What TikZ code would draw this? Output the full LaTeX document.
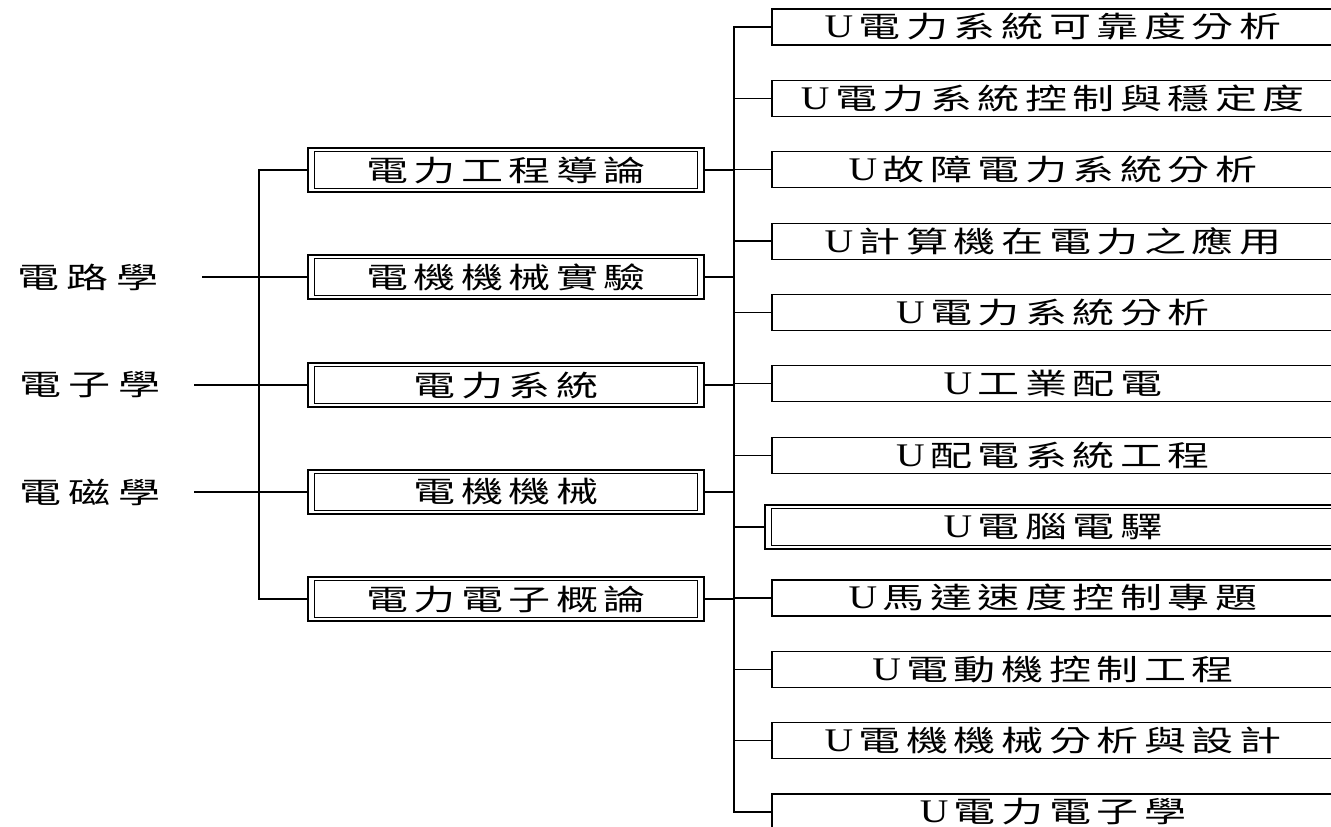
\documentclass[tikz,border=0pt]{standalone}
\usepackage{fontspec}
\newfontfamily\cjk[FakeStretch=1.45]{Noto Sans CJK TC}
\newfontfamily\lat[FakeStretch=1.2]{Liberation Serif}
\newcommand\UU{{\lat\fontsize{33}{36}\selectfont U}}
\ExplSyntaxOn
\NewDocumentCommand\spt{O{5.5pt}m}{
  \bool_set_true:N \l_tmpa_bool
  \tl_map_inline:nn {#2} {
    \bool_if:NF \l_tmpa_bool { \kern #1 \relax }
    \bool_set_false:N \l_tmpa_bool
    ##1
  }
}
\ExplSyntaxOff
\tikzset{
  txt/.style={font=\cjk\fontsize{29}{33}\selectfont, inner sep=0pt},
  lbl/.style={txt},
  midbox/.style={txt, draw, line width=1.4pt, minimum width=396pt, minimum height=44pt},
  rbox/.style={txt, draw, line width=1.2pt, minimum width=562pt, minimum height=36pt},
  rdbl/.style={txt, draw, line width=1.4pt, minimum width=576pt, minimum height=44pt},
  innerline/.style={line width=1.2pt},
  conn/.style={line width=1.3pt},
  trunk/.style={line width=1.8pt}
}
\begin{document}
\begin{tikzpicture}[x=1pt,y=-1pt]
\useasboundingbox (0,0) rectangle (1331,827);
\clip (0,0) rectangle (1331,827);
\fill[white] (0,0) rectangle (1331,827);

% left labels
\node[lbl] (L1) at (88,277) {\spt[7.5pt]{電路學}};
\node[lbl] (L2) at (90,385) {\spt[7.5pt]{電子學}};
\node[lbl] (L3) at (90,492) {\spt[7.5pt]{電磁學}};
\coordinate (s1) at (202,277);
\coordinate (s2) at (194,385);
\coordinate (s3) at (194,492);

% middle boxes
\node[midbox] (M1) at (506,170) {\spt{電力工程導論}};
\node[midbox] (M2) at (506,277) {\spt{電機機械實驗}};
\node[midbox] (M3) at (506,385) {\spt{電力系統}};
\node[midbox] (M4) at (506,492) {\spt{電機機械}};
\node[midbox] (M5) at (506,599) {\spt{電力電子概論}};
\foreach \m in {M1,M2,M3,M4,M5}{
  \draw[innerline] ([xshift=7pt,yshift=-4pt]\m.north west) rectangle ([xshift=-7pt,yshift=4pt]\m.south east);
}

% right boxes
\node[rbox] (R1) at (1053,27) {\spt{{\UU}電力系統可靠度分析}};
\node[rbox] (R2) at (1053,98.4) {\spt{{\UU}電力系統控制與穩定度}};
\node[rbox] (R3) at (1053,169.7) {\spt{{\UU}故障電力系統分析}};
\node[rbox] (R4) at (1053,241.1) {\spt{{\UU}計算機在電力之應用}};
\node[rbox] (R5) at (1053,312.4) {\spt{{\UU}電力系統分析}};
\node[rbox] (R6) at (1053,383.8) {\spt{{\UU}工業配電}};
\node[rbox] (R7) at (1053,455.2) {\spt{{\UU}配電系統工程}};
\node[rdbl] (R8) at (1053,527) {\spt{{\UU}電腦電驛}};
\draw[innerline] ([xshift=7pt,yshift=-4pt]R8.north west) rectangle ([xshift=-7pt,yshift=4pt]R8.south east);
\node[rbox] (R9) at (1053,597.9) {\spt{{\UU}馬達速度控制專題}};
\node[rbox] (R10) at (1053,669.2) {\spt{{\UU}電動機控制工程}};
\node[rbox] (R11) at (1053,740.6) {\spt{{\UU}電機機械分析與設計}};
\node[rbox] (R12) at (1053,812) {\spt{{\UU}電力電子學}};

% trunks
\coordinate (tl) at (259,0);
\coordinate (tr) at (734,0);
\draw[trunk] (M1.west) -- (M1.west -| tl) -- (M5.west -| tl) -- (M5.west);
\draw[trunk] (R1.west) -- (R1.west -| tr) -- (R12.west -| tr) -- (R12.west);

% label connectors
\draw[conn] (s1) -- (M2.west);
\draw[conn] (s2) -- (M3.west);
\draw[conn] (s3) -- (M4.west);

% middle to right trunk
\foreach \m in {M1,M2,M3,M4,M5}{
  \draw[conn] (\m.east) -- (\m.east -| tr);
}
% right branches
\foreach \r in {R2,R3,R4,R5,R6,R7,R8,R9,R10,R11}{
  \draw[conn] (\r.west) -- (\r.west -| tr);
}
\end{tikzpicture}
\end{document}
